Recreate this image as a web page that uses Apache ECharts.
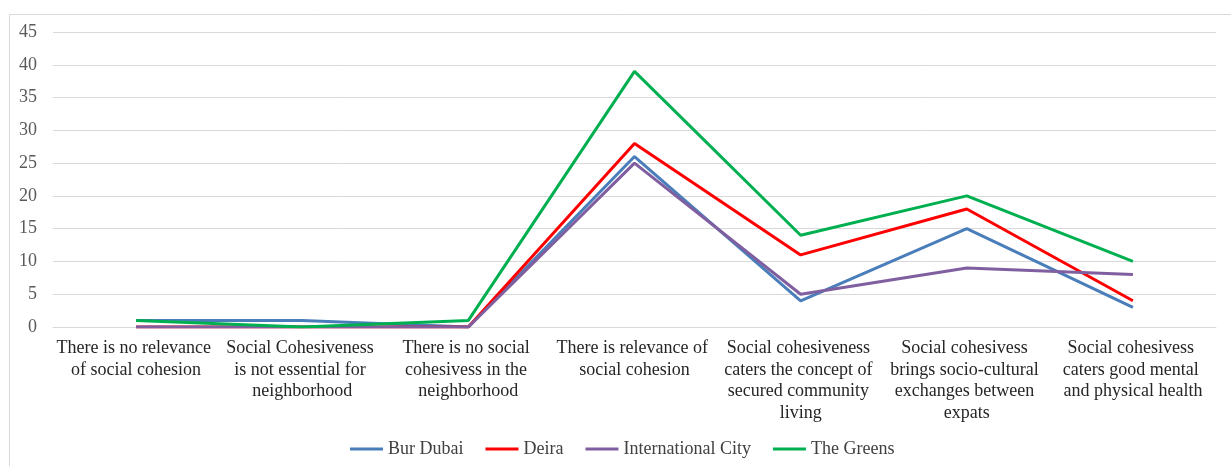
<!DOCTYPE html>
<html>
<head>
<meta charset="utf-8">
<script src="https://cdn.jsdelivr.net/npm/echarts@6/dist/echarts.min.js"></script>
<style>
  html, body { margin: 0; padding: 0; background: #fff; }
  #chart { width: 1231px; height: 466px; }
</style>
</head>
<body>
<div id="chart"></div>
<script>
// Survey responses per neighbourhood on social cohesion statements
const categories = [
  'There is no relevance of social cohesion',
  'Social Cohesiveness is not essential for neighborhood',
  'There is no social cohesivess in the neighborhood',
  'There is relevance of social cohesion',
  'Social cohesiveness caters the concept of secured community living',
  'Social cohesivess brings socio-cultural exchanges between expats',
  'Social cohesivess caters good mental and physical health'
];
const burDubai = [1, 1, 0, 26, 4, 15, 3];
const deira = [0, 0, 0, 28, 11, 18, 4];
const internationalCity = [0, 0, 0, 25, 5, 9, 8];
const theGreens = [1, 0, 1, 39, 14, 20, 10];
const yTicks = { min: 0, max: 45, interval: 5 };

const serif = '"Liberation Serif", "Times New Roman", serif';

const chart = echarts.init(document.getElementById('chart'), null, { renderer: 'canvas' });

function line(name, data, color) {
  return {
    name, type: 'line', data, symbol: 'none',
    lineStyle: { color, width: 3 }, itemStyle: { color },
    emphasis: { disabled: true }
  };
}

chart.setOption({
  animation: false,
  graphic: [{
    type: 'rect', left: 7, top: 12, silent: true,
    shape: { width: 1240, height: 470 },
    style: { fill: 'none', stroke: '#d9d9d9', lineWidth: 1 }
  }],
  grid: { left: 53, right: 15, top: 32, bottom: 139 },
  legend: {
    bottom: 3, left: 345,
    icon: 'rect', itemWidth: 33, itemHeight: 3, itemGap: 22,
    textStyle: { fontFamily: serif, fontSize: 18, color: '#404040' },
    data: ['Bur Dubai', 'Deira', 'International City', 'The Greens']
  },
  xAxis: {
    type: 'category', data: categories, boundaryGap: true,
    axisLine: { lineStyle: { color: '#d9d9d9', width: 1 } },
    axisTick: { show: false },
    axisLabel: {
      interval: 0, margin: 11, width: 162, overflow: 'break',
      fontFamily: serif, fontSize: 18, color: '#262626', lineHeight: 21.5
    }
  },
  yAxis: {
    type: 'value', min: yTicks.min, max: yTicks.max, interval: yTicks.interval,
    axisLine: { show: false }, axisTick: { show: false },
    splitLine: { lineStyle: { color: '#d9d9d9', width: 1 } },
    axisLabel: { fontFamily: serif, fontSize: 18, color: '#595959', margin: 16 }
  },
  series: [
    line('Bur Dubai', burDubai, '#4a7ebb'),
    line('Deira', deira, '#ff0000'),
    line('International City', internationalCity, '#7f5fa0'),
    line('The Greens', theGreens, '#00b050')
  ]
});
</script>
</body>
</html>
